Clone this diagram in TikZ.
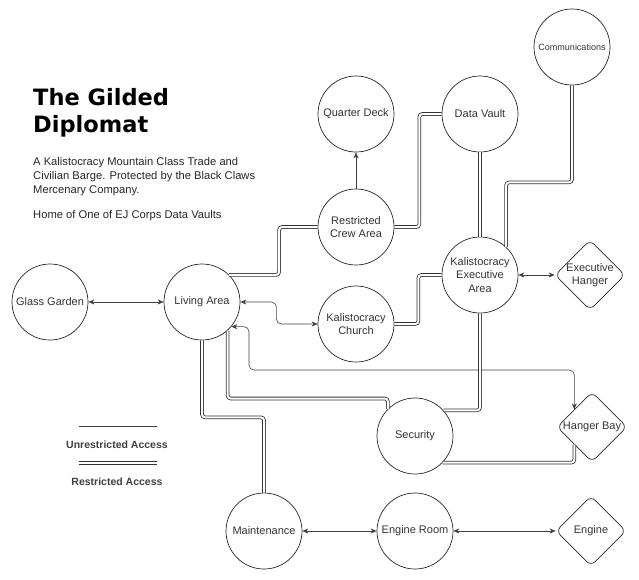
\documentclass[tikz,border=0pt]{standalone}
\usepackage{fontspec}
\setmainfont{Liberation Sans}
\newfontfamily\titlefont{DejaVu Sans}
\usetikzlibrary{shapes.geometric, arrows.meta, calc}

\tikzset{
  room/.style={circle, draw=black!85, line width=0.7pt, minimum size=76pt, inner sep=0pt, align=center, text=black!80},
  bay/.style={diamond, draw=black!85, line width=0.7pt, minimum size=70pt, inner sep=0pt, rounded corners=6pt,
    label={[align=center, text=black!80]center:#1}},
  walkway/.style={draw=black!75, line width=0.6pt, rounded corners=5pt,
    {Stealth[length=6pt,width=5pt]}-{Stealth[length=6pt,width=5pt]}},
  oneway/.style={draw=black!75, line width=0.6pt, -{Stealth[length=6pt,width=5pt]}},
  sealed/.style={draw=black!80, line width=0.8pt, double=white, double distance=2pt, rounded corners=3pt},
  keytext/.style={font=\bfseries\fontsize{10.5}{12}\selectfont, text=black!75},
}

\begin{document}
\begin{tikzpicture}[x=1pt, y=-1pt, font=\fontsize{11}{13.5}\selectfont]
    \useasboundingbox (0,0) rectangle (639,579);

    \node[anchor=north west, align=left, inner sep=0pt, font=\titlefont\bfseries\fontsize{22.5}{27}\selectfont] (title) at (33,88) {The Gilded\\Diplomat};
    \node[anchor=north west, align=left, inner sep=0pt, text=black!85, font=\fontsize{11.2}{14}\selectfont] (blurb) at (33,157)
        {A Kalistocracy Mountain Class Trade and\\Civilian Barge. Protected by the Black Claws\\Mercenary Company.\\[11pt]Home of One of EJ Corps Data Vaults};

    \node[room] (garden) at (50,302) {Glass Garden};
    \node[room] (living) at (202,302) {Living Area};
    \node[room] (quarter) at (356,114) {Quarter Deck};
    \node[room] (crew) at (356,227) {Restricted\\Crew Area};
    \node[room] (vault) at (480,114) {Data Vault};
    \node[room, font=\fontsize{9}{11}\selectfont] (comms) at (572,47) {Communications};
    \node[room] (exec) at (480,275) {Kalistocracy\\Executive\\Area};
    \node[bay={Executive\\Hanger}] (exechanger) at (590,275) {};
    \node[room] (church) at (356,324) {Kalistocracy\\Church};
    \node[room] (security) at (415,436) {Security};
    \node[bay={Hanger Bay}] (hangerbay) at (592,427) {};
    \node[room] (maint) at (264,531) {Maintenance};
    \node[room] (engroom) at (415,531) {Engine Room};
    \node[bay={Engine}] (engine) at (591,531) {};

    \draw[walkway] (garden) -- (living);
    \draw[walkway] (living.east) -- ++(36,0) |- (church.west);
    \draw[walkway] (living.-40) -| (249,370) -| (hangerbay.north west);
    \draw[oneway] (crew) -- (quarter);
    \draw[walkway] (exec) -- (exechanger);
    \draw[walkway] (maint) -- (engroom);
    \draw[walkway] (engroom) -- (engine);

    \draw[sealed] (living.45) -- ++(50,0) |- (crew.west);
    \draw[sealed] (crew.east) -- ++(25,0) |- (vault.west);
    \draw[sealed] (vault) -- (exec);
    \draw[sealed] (comms.south) -- ++(0,97) -| (exec.47);
    \draw[sealed] (church.east) -- ++(24,0) |- (exec.west);
    \draw[sealed] (exec.south) |- (security.42);
    \draw[sealed] (living.-48) -- ++(0,68) -| (security.135);
    \draw[sealed] (living.south) -- ++(0,77) -| (maint.north);
    \draw[sealed] (security.-44) -| (hangerbay.south west);

    \coordinate (keyopenL) at (79,426);
    \coordinate (keyopenR) at (157,426);
    \coordinate (keysealL) at (79,463);
    \coordinate (keysealR) at (157,463);
    \draw[draw=black!75, line width=0.6pt] (keyopenL) -- (keyopenR);
    \draw[sealed] (keysealL) -- (keysealR);
    \node[keytext] (keyopen) at (117,445) {Unrestricted Access};
    \node[keytext] (keyseal) at (117,482) {Restricted Access};
\end{tikzpicture}
\end{document}
